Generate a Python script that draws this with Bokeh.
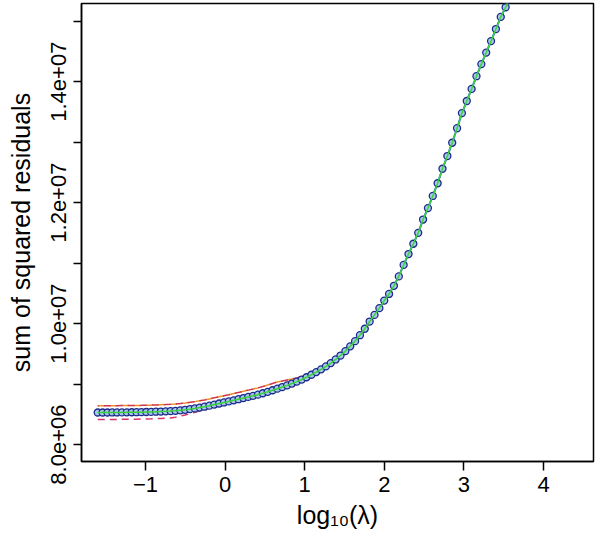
from bokeh.plotting import figure
from bokeh.models import FixedTicker, Range1d
from bokeh.embed import file_html
from bokeh.resources import INLINE

# log10(lambda) grid
log_lambda = [
    -1.600, -1.539, -1.478, -1.417, -1.356, -1.295, -1.234, -1.173, -1.112, -1.051,
    -0.990, -0.929, -0.868, -0.807, -0.746, -0.685, -0.624, -0.563, -0.502, -0.441,
    -0.380, -0.319, -0.258, -0.197, -0.136, -0.075, -0.014, 0.047, 0.108, 0.169,
    0.230, 0.291, 0.352, 0.413, 0.474, 0.535, 0.596, 0.657, 0.718, 0.779,
    0.840, 0.901, 0.962, 1.023, 1.084, 1.145, 1.206, 1.267, 1.328, 1.389,
    1.450, 1.511, 1.572, 1.633, 1.694, 1.755, 1.816, 1.877, 1.938, 1.999,
    2.060, 2.121, 2.182, 2.243, 2.304, 2.365, 2.426, 2.487, 2.548, 2.609,
    2.670, 2.731, 2.792, 2.853, 2.914, 2.975, 3.036, 3.097, 3.158, 3.219,
    3.280, 3.341, 3.402, 3.463, 3.524, 3.585,
]

# sum of squared residuals (in units of 1e6)
ssr_millions = [
    8.530, 8.530, 8.530, 8.531, 8.531, 8.532, 8.533, 8.534, 8.535, 8.536,
    8.538, 8.540, 8.543, 8.546, 8.549, 8.553, 8.558, 8.566, 8.575, 8.586,
    8.598, 8.611, 8.626, 8.643, 8.661, 8.679, 8.696, 8.713, 8.731, 8.750,
    8.769, 8.788, 8.806, 8.825, 8.848, 8.872, 8.898, 8.924, 8.951, 8.979,
    9.009, 9.041, 9.075, 9.113, 9.154, 9.198, 9.244, 9.293, 9.347, 9.407,
    9.472, 9.545, 9.624, 9.710, 9.808, 9.915, 10.034, 10.144, 10.255, 10.380,
    10.490, 10.625, 10.780, 10.970, 11.150, 11.320, 11.500, 11.720, 11.910, 12.110,
    12.320, 12.560, 12.770, 12.990, 13.230, 13.480, 13.680, 13.880, 14.090, 14.290,
    14.480, 14.670, 14.870, 15.070, 15.230, 15.400,
]

# dashed upper / lower band (in units of 1e6), same grid from the start
upper_millions = [
    8.642, 8.642, 8.642, 8.643, 8.643, 8.644, 8.645, 8.646, 8.647, 8.648,
    8.650, 8.652, 8.655, 8.658, 8.661, 8.665, 8.670, 8.678, 8.687, 8.698,
    8.710, 8.723, 8.738, 8.755, 8.773, 8.791, 8.808, 8.825, 8.843, 8.862,
    8.881, 8.900, 8.918, 8.937, 8.960, 8.984, 9.010, 9.036, 9.051, 9.069,
    9.084, 9.101, 9.120, 9.143, 9.169,
]
lower_millions = [
    8.415, 8.415, 8.415, 8.416, 8.416, 8.417, 8.418, 8.419, 8.420, 8.421,
    8.423, 8.425, 8.428, 8.431, 8.434, 8.438, 8.453, 8.471, 8.490, 8.511,
    8.533, 8.556, 8.581, 8.608, 8.636, 8.664, 8.691,
]

x_ticks = [-1, 0, 1, 2, 3, 4]
y_major_ticks = [8.0e6, 1.0e7, 1.2e7, 1.4e7]
y_minor_ticks = [9.0e6, 1.1e7, 1.3e7, 1.5e7]
y_tick_labels = ["8.0e+06", "1.0e+07", "1.2e+07", "1.4e+07"]

ssr = [v * 1e6 for v in ssr_millions]
upper = [v * 1e6 for v in upper_millions]
lower = [v * 1e6 for v in lower_millions]

FONT = "Liberation Sans"

p = figure(
    width=600, height=536,
    min_border_left=81, min_border_right=7, min_border_top=3, min_border_bottom=75,
    x_range=Range1d(-1.804, 4.628), y_range=Range1d(7.72e6, 1.5292e7),
    output_backend="svg", toolbar_location=None,
)
p.grid.visible = False
p.outline_line_color = "black"
p.outline_line_width = 1.5
p.background_fill_color = "white"
p.border_fill_color = "white"

# band lines
p.line(log_lambda[:len(upper)], upper, line_color="#e8902a", line_width=1.5, line_dash="7 5")
p.line(log_lambda[:len(upper)], upper, line_color="#d2334f", line_width=1.5, line_dash="7 5", line_dash_offset=6)
p.line(log_lambda[:len(lower)], lower, line_color="#d8336a", line_width=1.5, line_dash="7 5")

# main curve
p.line(log_lambda, ssr, line_color="#2a64c8", line_width=2)
p.scatter(log_lambda, ssr, marker="circle", size=7, line_color="#1c2a8c", line_width=1.3,
          fill_color="#a8c8e8")
p.line(log_lambda, ssr, line_color="#3ad43a", line_width=1.5)

# x axis
xa = p.xaxis[0]
xa.ticker = FixedTicker(ticks=x_ticks)
xa.axis_label = "log\u2081\u2080(\u03bb)"
xa.axis_label_text_font = FONT
xa.axis_label_text_font_size = "25px"
xa.axis_label_text_font_style = "normal"
xa.axis_label_text_color = "black"
xa.axis_label_text_line_height = 1.0
xa.axis_label_standoff = 6
xa.major_label_text_font = FONT
xa.major_label_text_font_size = "22px"
xa.major_label_text_color = "black"
xa.major_label_text_line_height = 1.0
xa.major_label_standoff = 6
xa.major_tick_out = 9
xa.major_tick_in = 0
xa.major_tick_line_width = 1.5
xa.minor_tick_line_color = None
xa.axis_line_width = 1.5

# y axis
ya = p.yaxis[0]
ya.ticker = FixedTicker(ticks=y_major_ticks, minor_ticks=y_minor_ticks)
ya.major_label_overrides = {t: s for t, s in zip(y_major_ticks, y_tick_labels)}
ya.major_label_orientation = "vertical"
ya.axis_label = "sum of squared residuals"
ya.axis_label_text_font = FONT
ya.axis_label_text_font_size = "25px"
ya.axis_label_text_font_style = "normal"
ya.axis_label_text_color = "black"
ya.axis_label_text_line_height = 1.0
ya.axis_label_standoff = 14
ya.major_label_text_font = FONT
ya.major_label_text_font_size = "22px"
ya.major_label_text_color = "black"
ya.major_label_text_line_height = 1.0
ya.major_label_standoff = 7
ya.major_tick_out = 8
ya.major_tick_in = 0
ya.minor_tick_out = 8
ya.minor_tick_in = 0
ya.major_tick_line_width = 1.5
ya.minor_tick_line_width = 1.5
ya.minor_tick_line_color = "black"
ya.axis_line_width = 1.5

open("out.html", "w").write(file_html(p, INLINE))
